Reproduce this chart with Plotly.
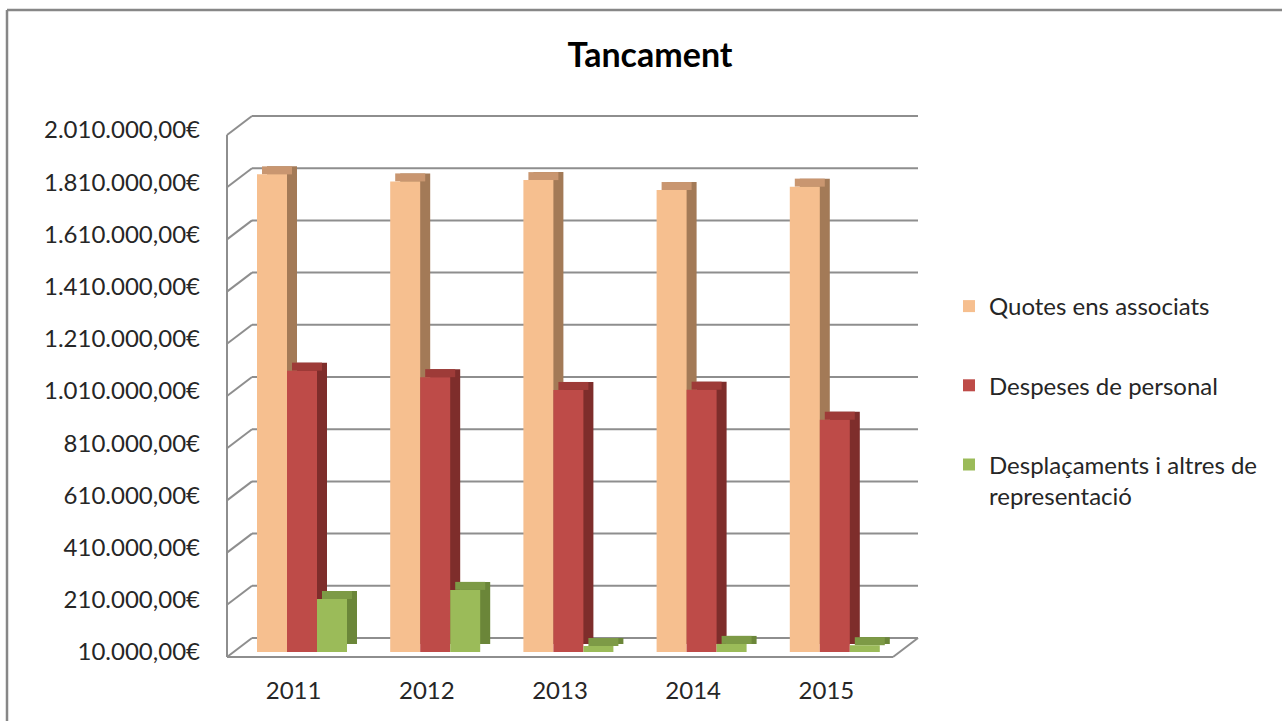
import plotly.graph_objects as go

# ---------------- data ----------------
years = ["2011", "2012", "2013", "2014", "2015"]
quotes_ens_associats = [1840000, 1813000, 1818000, 1780000, 1793000]
despeses_personal = [1088000, 1063000, 1014000, 1015000, 900000]
desplacaments = [213000, 248000, 33000, 41000, 36000]
series_names = ["Quotes ens associats", "Despeses de personal",
                "Desplaçaments i altres de<br>representació"]
tick_values = [10000, 210000, 410000, 610000, 810000, 1010000,
               1210000, 1410000, 1610000, 1810000, 2010000]
tick_labels = ["10.000,00€", "210.000,00€", "410.000,00€", "610.000,00€",
               "810.000,00€", "1.010.000,00€", "1.210.000,00€", "1.410.000,00€",
               "1.610.000,00€", "1.810.000,00€", "2.010.000,00€"]

# ---------------- styling / geometry ----------------
W, H = 1282, 721
FONT = "Lato"
TXT = "#262626"
GRID = "#8e8e8e"
front_cols = ["#F6BF8F", "#BE4B48", "#9BBB59"]
top_cols = ["#C99670", "#9E3B38", "#7D9A46"]
side_cols = ["#A37A57", "#7E2D2B", "#6B8639"]

def xp(px):
    return px / W

def yp(py):
    return 1 - py / H

YMIN, YMAX = 10000, 2010000
# front (bars) subplot box in pixels
FX0, FX1, FY0, FY1 = 227, 893, 652, 130
# back wall box in pixels
BX0, BX1, BY0 = 252, 918, 638
cat_px = (FX1 - FX0) / len(years)
bar_w_px = 30
shift_px = 8.4
depth_x_px, depth_y_px = 10, 8
bw = bar_w_px / cat_px
per_px = (YMAX - YMIN) / (FY0 - FY1)
dz = depth_y_px * per_px

fig = go.Figure()
x_idx = list(range(len(years)))
all_series = [quotes_ens_associats, despeses_personal, desplacaments]
offsets = [(-1.5 * bar_w_px + shift_px + i * bar_w_px) / cat_px for i in range(3)]

# side faces (depth) drawn first
for i, vals in enumerate(all_series):
    fig.add_trace(go.Bar(
        x=x_idx, y=[v - YMIN for v in vals], base=YMIN + dz,
        width=bw, offset=offsets[i] + depth_x_px / cat_px,
        marker=dict(color=side_cols[i], line=dict(width=0)),
        xaxis="x2", yaxis="y2", showlegend=False, hoverinfo="skip"))
# top faces
for i, vals in enumerate(all_series):
    fig.add_trace(go.Bar(
        x=x_idx, y=[dz] * len(vals), base=vals,
        width=bw, offset=offsets[i] + 0.5 * depth_x_px / cat_px,
        marker=dict(color=top_cols[i], line=dict(width=0)),
        xaxis="x2", yaxis="y2", showlegend=False, hoverinfo="skip"))
# front faces
for i, vals in enumerate(all_series):
    fig.add_trace(go.Bar(
        x=x_idx, y=vals, width=bw, offset=offsets[i], name=series_names[i],
        marker=dict(color=front_cols[i], line=dict(width=0)),
        legendgroup=f"g{i}", xaxis="x2", yaxis="y2"))

shapes = []
line = dict(color=GRID, width=2)
step = (FY0 - FY1) / (len(tick_values) - 1)
# back wall gridlines
for k in range(len(tick_values)):
    shapes.append(dict(type="line", xref="paper", yref="paper", layer="below",
                       x0=xp(BX0), x1=xp(BX1), y0=yp(BY0 - k * step), y1=yp(BY0 - k * step),
                       line=line))
# left wall
shapes.append(dict(type="line", xref="paper", yref="paper", layer="below",
                   x0=xp(FX0), y0=yp(FY0 + 5), x1=xp(FX0), y1=yp(FY1 + 5), line=line))
for k in range(len(tick_values)):
    shapes.append(dict(type="line", xref="paper", yref="paper", layer="below",
                       x0=xp(FX0), y0=yp(FY0 + 5 - k * step),
                       x1=xp(BX0), y1=yp(BY0 - k * step), line=line))
# floor front edge and right edge
shapes.append(dict(type="line", xref="paper", yref="paper", layer="below",
                   x0=xp(FX0), y0=yp(FY0 + 5), x1=xp(FX1), y1=yp(FY0 + 5), line=line))
shapes.append(dict(type="line", xref="paper", yref="paper", layer="below",
                   x0=xp(FX1), y0=yp(FY0 + 5), x1=xp(BX1), y1=yp(BY0), line=line))
# outer chart border (left and top)
shapes.append(dict(type="line", xref="paper", yref="paper",
                   x0=xp(7), y0=yp(10), x1=xp(7), y1=0, line=dict(color="#878787", width=2.5)))
shapes.append(dict(type="line", xref="paper", yref="paper",
                   x0=xp(7), y0=yp(10), x1=1, y1=yp(10), line=dict(color="#878787", width=2.5)))

fig.update_layout(
    width=W, height=H, autosize=False,
    margin=dict(l=0, r=0, t=0, b=0, pad=0, autoexpand=False),
    paper_bgcolor="white", plot_bgcolor="rgba(0,0,0,0)",
    barmode="overlay",
    font=dict(family=FONT, size=24, color=TXT),
    title=dict(text="<b>Tancament</b>", x=xp(650), y=yp(55),
               xanchor="center", yanchor="middle", automargin=False,
               font=dict(family=FONT, size=34, color="#000000")),
    xaxis=dict(visible=False, automargin=False),
    yaxis=dict(visible=False, automargin=False),
    xaxis2=dict(domain=[xp(FX0), xp(FX1)], range=[-0.5, 4.5], anchor="y2",
                tickvals=x_idx, ticktext=years, ticks="", showgrid=False,
                zeroline=False, showline=False, ticklabelstandoff=22, automargin=False,
                tickfont=dict(family=FONT, size=24, color=TXT)),
    yaxis2=dict(domain=[yp(FY0), yp(FY1)], range=[YMIN, YMAX], anchor="x2",
                tickvals=tick_values, ticktext=tick_labels, ticks="", showgrid=False,
                zeroline=False, showline=False, ticklabelstandoff=26, automargin=False,
                tickfont=dict(family=FONT, size=24, color=TXT)),
    legend=dict(x=xp(949), y=yp(284), xanchor="left", yanchor="top",
                font=dict(family=FONT, size=24, color=TXT),
                tracegroupgap=45, valign="top", bgcolor="rgba(0,0,0,0)"),
    shapes=shapes,
)

fig.write_html("out.html", config={"displayModeBar": False},
               post_script="document.body.style.margin='0px';document.body.style.overflow='hidden';")
